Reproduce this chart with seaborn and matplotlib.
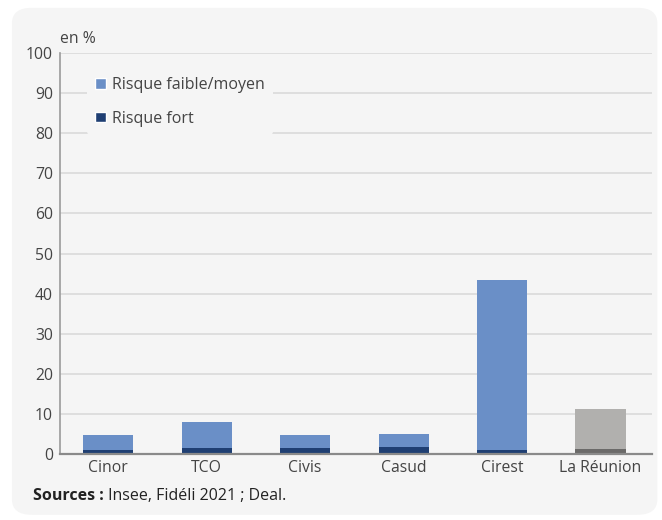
import matplotlib
matplotlib.use("Agg")
import matplotlib.pyplot as plt
import seaborn as sns
import pandas as pd
from matplotlib.patches import FancyBboxPatch, Patch

# data (en %)
territoires = ["Cinor", "TCO", "Civis", "Casud", "Cirest", "La Réunion"]
risque_fort = [1.0, 1.5, 1.5, 1.7, 1.0, 1.2]
risque_faible_moyen = [3.7, 6.5, 3.2, 3.3, 42.4, 10.0]
y_ticks = [0, 10, 20, 30, 40, 50, 60, 70, 80, 90, 100]

light_colors = ["#6a8fc7"] * 5 + ["#b1b0ae"]
dark_colors = ["#1f3f73"] * 5 + ["#6b6a69"]

df = pd.DataFrame({
    "territoire": territoires,
    "fort": risque_fort,
    "faible": risque_faible_moyen,
})
# stacked bars: draw the total first, then the "fort" part over it
df["total"] = df["fort"] + df["faible"]

sns.set_style("white")
plt.rcParams["font.family"] = ["Open Sans", "DejaVu Sans"]

fig = plt.figure(figsize=(6.62, 5.2), dpi=100)
fig.patch.set_facecolor("white")
panel = FancyBboxPatch((0.018, 0.01), 0.975, 0.975, boxstyle="round,pad=0,rounding_size=0.03",
                       transform=fig.transFigure, facecolor="#f5f5f5", edgecolor="none", zorder=-5)
fig.patches.append(panel)

ax = fig.add_axes([0.0906, 0.127, 0.894, 0.771])
ax.set_zorder(2)
ax.set_facecolor("#f5f5f5")

bar_kw = dict(legend=False, width=0.51, ax=ax, saturation=1,
              errorbar=None, linewidth=0, edgecolor="none")
sns.barplot(data=df, x="territoire", y="total", hue="territoire", palette=light_colors,
            zorder=3, **bar_kw)
sns.barplot(data=df, x="territoire", y="fort", hue="territoire", palette=dark_colors,
            zorder=4, **bar_kw)

ax.set_ylim(0, 100)
ax.set_xlim(-0.49, 5.52)
ax.set_yticks(y_ticks)
ax.yaxis.grid(True, color="#dcdcdc", linewidth=1.3, zorder=0)
ax.set_axisbelow(True)
ax.set_xlabel("")
ax.set_ylabel("")
for s in ["top", "right"]:
    ax.spines[s].set_visible(False)
ax.spines["left"].set_color("#9a9a9a")
ax.spines["left"].set_linewidth(1.2)
ax.spines["bottom"].set_color("#8a8a8a")
ax.spines["bottom"].set_linewidth(1.6)
ax.spines["bottom"].set_zorder(5)
ax.tick_params(axis="y", length=3, color="#9a9a9a", labelsize=11.3, labelcolor="#444444", pad=2)
ax.tick_params(axis="x", length=0, labelsize=11.3, labelcolor="#444444", pad=4)

handles = [Patch(facecolor="#6a8fc7", label="Risque faible/moyen"),
           Patch(facecolor="#1f3f73", label="Risque fort")]
leg = ax.legend(handles=handles, loc="upper left", bbox_to_anchor=(0.033, 0.98), frameon=True,
                facecolor="#f5f5f5", edgecolor="none", framealpha=1, fontsize=11.5,
                handlelength=0.65, handleheight=0.65, handletextpad=0.4, labelspacing=1.1,
                borderpad=0.5)
for t in leg.get_texts():
    t.set_color("#444444")

fig.text(0.0906, 0.91, "en %", fontsize=11.3, color="#444444", ha="left", va="bottom")
src = fig.text(0.05, 0.046, "Sources :", fontsize=11.5, fontweight="bold", color="#222222", va="center")
ax.annotate(" Insee, Fidéli 2021 ; Deal.", xy=(1, 0.5), xycoords=src, fontsize=11.5,
            color="#222222", va="center", ha="left", annotation_clip=False)

fig.savefig("out.png", dpi=100, facecolor="white")
